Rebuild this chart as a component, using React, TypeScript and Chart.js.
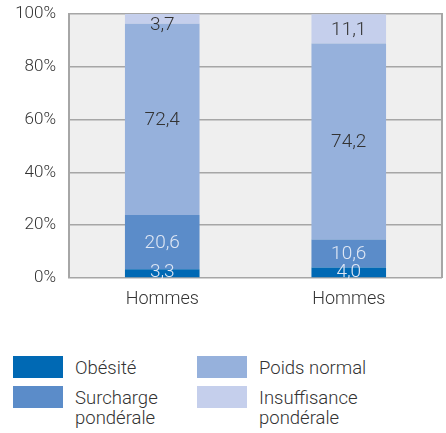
import React, { useEffect, useRef } from "react";
import { Chart, registerables } from "chart.js";

Chart.register(...registerables);

const categories = ["Hommes", "Hommes"];
const seriesNames = ["Obésité", "Surcharge pondérale", "Poids normal", "Insuffisance pondérale"];
const legendLines = [["Obésité"], ["Surcharge", "pondérale"], ["Poids normal"], ["Insuffisance", "pondérale"]];
const obesite = [3.3, 4.0];
const surcharge = [20.6, 10.6];
const poidsNormal = [72.4, 74.2];
const insuffisance = [3.7, 11.1];
const yTicks = [0, 20, 40, 60, 80, 100];

const colors = ["#0069b4", "#5b8cc9", "#96b1dc", "#c5cfec"];
const labelColors = ["#dfe7f4", "#dfe7f4", "#333333", "#333333"];
const FONT = "Roboto, 'Noto Sans', sans-serif";

const bgPlugin = {
  id: "bgPlugin",
  beforeDraw(chart: any) {
    const { ctx, chartArea } = chart;
    ctx.save();
    ctx.fillStyle = "#efefef";
    ctx.fillRect(chartArea.left, chartArea.top, chartArea.right - chartArea.left, chartArea.bottom - chartArea.top);
    ctx.restore();
  },
  afterDraw(chart: any) {
    const { ctx, chartArea } = chart;
    ctx.save();
    ctx.strokeStyle = "#a6a6a6";
    ctx.lineWidth = 2;
    ctx.beginPath();
    ctx.moveTo(chartArea.right, chartArea.top - 1);
    ctx.lineTo(chartArea.right, chartArea.bottom);
    ctx.stroke();
    ctx.restore();
  },
};

const labelPlugin = {
  id: "labelPlugin",
  afterDatasetsDraw(chart: any) {
    const { ctx, chartArea } = chart;
    ctx.save();
    ctx.font = `300 19px ${FONT}`;
    ctx.textAlign = "center";
    ctx.textBaseline = "middle";
    chart.data.datasets.forEach((ds: any, di: number) => {
      const meta = chart.getDatasetMeta(di);
      meta.data.forEach((bar: any, i: number) => {
        const v = ds.data[i];
        const top = Math.min(bar.y, bar.base);
        const bottom = Math.max(bar.y, bar.base);
        let cy = (top + bottom) / 2;
        cy = Math.max(chartArea.top + 10, Math.min(chartArea.bottom - 7, cy));
        ctx.fillStyle = labelColors[di];
        ctx.fillText(v.toFixed(1).replace(".", ","), bar.x, cy + 1);
      });
    });
    ctx.restore();
  },
};

function App() {
  const ref = useRef<HTMLCanvasElement>(null);
  useEffect(() => {
    const values = [obesite, surcharge, poidsNormal, insuffisance];
    const chart = new Chart(ref.current as HTMLCanvasElement, {
      type: "bar",
      data: {
        labels: categories,
        datasets: seriesNames.map((name, i) => ({
          label: name,
          data: values[i],
          backgroundColor: colors[i],
          borderWidth: 0,
          barPercentage: 0.4,
          categoryPercentage: 1,
        })),
      },
      options: {
        animation: false,
        responsive: false,
        maintainAspectRatio: false,
        layout: { padding: { top: 14, right: 4, left: 0, bottom: 0 } },
        plugins: { legend: { display: false }, tooltip: { enabled: false } },
        scales: {
          x: {
            stacked: true,
            grid: { display: false, drawTicks: false },
            border: { display: false },
            ticks: { color: "#333333", font: { family: FONT, size: 18, weight: "300" as any }, padding: 11 },
            afterFit: (s: any) => {
              s.height = 42;
              s.paddingLeft = 0;
              s.paddingRight = 0;
            },
          },
          y: {
            stacked: true,
            min: 0,
            max: 100,
            afterBuildTicks: (s: any) => {
              s.ticks = yTicks.map((v) => ({ value: v }));
            },
            grid: { color: "#a6a6a6", lineWidth: 1.5, drawTicks: false },
            border: { display: true, color: "#a6a6a6", width: 2 },
            ticks: {
              color: "#333333",
              font: { family: FONT, size: 17, weight: "300" as any },
              padding: 13,
              callback: (v: any) => `${v}%`,
            },
            afterFit: (s: any) => {
              s.width = 69;
              s.paddingTop = 0;
              s.paddingBottom = 0;
            },
          },
        },
      },
      plugins: [bgPlugin, labelPlugin],
    });
    return () => chart.destroy();
  }, []);

  const legendPos = [
    { x: 13, y: 356 },
    { x: 13, y: 386 },
    { x: 197, y: 356 },
    { x: 197, y: 386 },
  ];

  return (
    <div style={{ position: "absolute", left: 0, top: 0, width: 446, height: 433, background: "#fff", fontFamily: FONT }}>
      <canvas ref={ref} width={446} height={320} style={{ display: "block", width: 446, height: 320 }} />
      {seriesNames.map((name, i) => (
        <React.Fragment key={name}>
          <div
            style={{
              position: "absolute",
              left: legendPos[i].x,
              top: legendPos[i].y,
              width: 50,
              height: 22,
              background: colors[i],
            }}
          />
          <div
            style={{
              position: "absolute",
              left: legendPos[i].x + 62,
              top: legendPos[i].y + 2,
              fontSize: 18.5,
              lineHeight: "20px",
              fontWeight: 300,
              color: "#333333",
              whiteSpace: "nowrap",
            }}
          >
            {legendLines[i].map((l) => (
              <div key={l}>{l}</div>
            ))}
          </div>
        </React.Fragment>
      ))}
    </div>
  );
}

export default App;
